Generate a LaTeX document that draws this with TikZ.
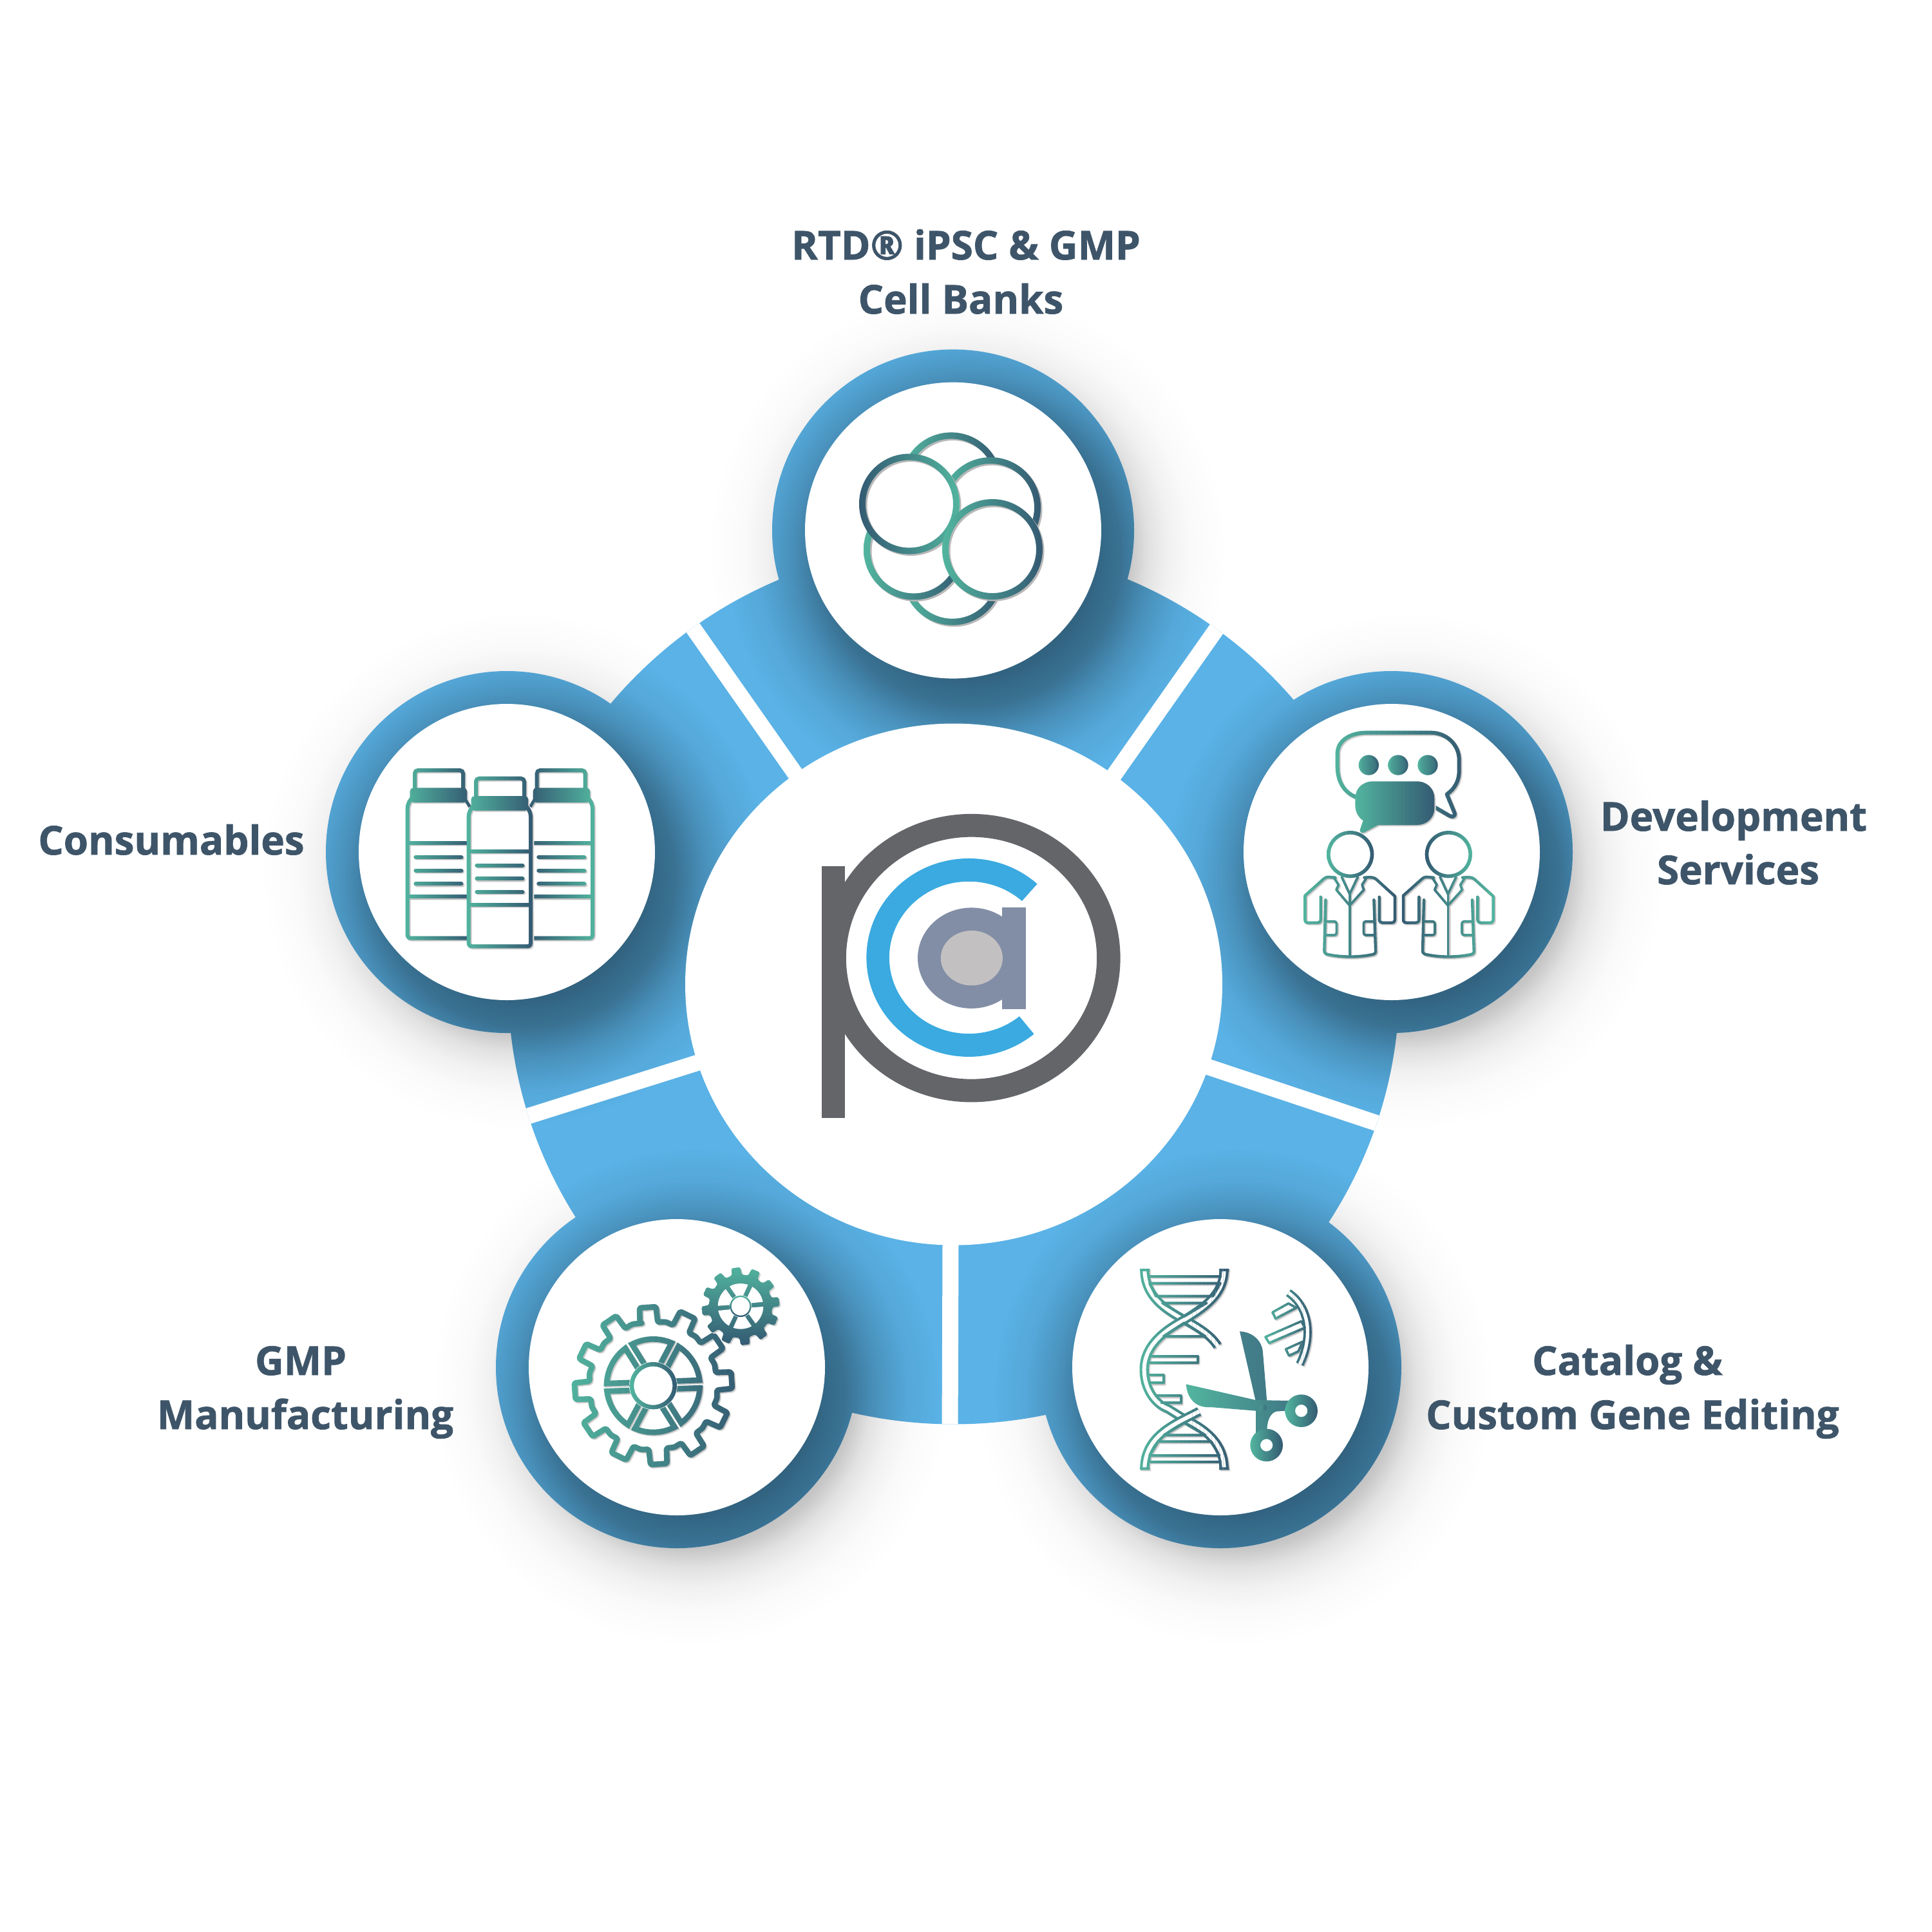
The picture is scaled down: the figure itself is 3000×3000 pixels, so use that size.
\documentclass[tikz,border=0pt]{standalone}
\usepackage{fontspec}
\setmainfont[BoldFeatures={FakeBold=1.2}]{Open Sans}
\usetikzlibrary{fadings}
\definecolor{tealc}{HTML}{52B59F}
\definecolor{darkc}{HTML}{345A72}
\definecolor{midc}{HTML}{43808A}
\definecolor{ringblue}{HTML}{5AB2E6}
\definecolor{textc}{HTML}{3E5569}
\definecolor{logogrey}{HTML}{636569}
\definecolor{logoblue}{HTML}{3AAAE0}
\definecolor{logoa}{HTML}{828EA6}
\definecolor{logoin}{HTML}{C2C0C1}
\colorlet{gc}{tealc}
\pgfdeclareradialshading{discprofile}{\pgfpointorigin}{%
 color(0bp)=(white);color(11.8bp)=(white);color(15.3bp)=(black!21);color(18.4bp)=(black!60);color(21.7bp)=(black!88);color(25bp)=(black);color(50bp)=(black)}
\pgfdeclarefading{discfade}{\pgfuseshading{discprofile}}
\pgfdeclareradialshading{pageprofile}{\pgfpointorigin}{%
 color(0bp)=(white);color(14.4bp)=(white);color(15.7bp)=(black!15);color(17.5bp)=(black!55);color(19.4bp)=(black!78);color(21.6bp)=(black!92);color(25bp)=(black);color(50bp)=(black)}
\pgfdeclarefading{pagefade}{\pgfuseshading{pageprofile}}
\tikzset{
 lab/.style={text=textc,font=\fontsize{14.85pt}{17pt}\selectfont\bfseries,inner sep=0pt,anchor=base},
 wstroke/.style={gc,line width=#1*0.08pt},
 crop/.style={x=0.08pt,y=-0.08pt},
}
% gradient painter: x1 y1 x2 y2 left right drawing (the drawing uses the colour gc)
\newcommand{\gradpaint}[7]{%
 \begin{scope}[shift={(7,7)}]\colorlet{gc}{black!10}#7\end{scope}
 \begin{scope}[shift={(4,4)}]\colorlet{gc}{black!24}#7\end{scope}
 \foreach \i in {0,...,23}{%
  \pgfmathsetmacro\xa{#1+(#3-#1)/24*\i}%
  \pgfmathsetmacro\xb{#1+(#3-#1)/24*(\i+1)+1.5}%
  \pgfmathsetmacro\mx{100*(\i+.5)/24}%
  \colorlet{gc}{#6!\mx!#5}%
  \begin{scope}\clip (\xa,#2) rectangle (\xb,#4);#7\end{scope}%
 }}
\newcommand{\gradpaintv}[7]{%
 \begin{scope}[shift={(6,6)}]\colorlet{gc}{black!18}#7\end{scope}
 \foreach \i in {0,...,23}{%
  \pgfmathsetmacro\ya{#2+(#4-#2)/24*\i}%
  \pgfmathsetmacro\yb{#2+(#4-#2)/24*(\i+1)+1.5}%
  \pgfmathsetmacro\mx{100*(\i+.5)/24}%
  \colorlet{gc}{#6!\mx!#5}%
  \begin{scope}\clip (#1,\ya) rectangle (#3,\yb);#7\end{scope}%
 }}
\newcommand{\cellring}[5]{%
 \fill[white] (#1,#2) circle (73);
 \fill[black!28,even odd rule] ({#1+2.5},{#2+2.5}) circle (78) ({#1+2.5},{#2+2.5}) circle (68);
 \shade[even odd rule,left color=#3,right color=#4] (#1,#2) circle (78) (#1,#2) circle (68);}
\newcommand{\coatbody}{%
 \draw[wstroke=13,line join=round,line cap=round] (370,788) -- (335,785) .. controls (325,787) and (320,790) .. (315,795) -- (229,872) -- (229,985) .. controls (229,995) and (235,998) .. (245,998) -- (285,998) .. controls (298,998) and (302,993) .. (302,983) -- (302,878);
 \draw[wstroke=13,line join=round,line cap=round] (325,892) -- (319,1128) .. controls (319,1140) and (325,1143) .. (335,1146) .. controls (400,1160) and (480,1160) .. (545,1146) .. controls (555,1143) and (560,1138) .. (558,1125) -- (550,892);
 \draw[wstroke=13,line join=round,line cap=round] (575,878) -- (575,983) .. controls (575,993) and (580,998) .. (592,998) -- (632,998) .. controls (642,998) and (648,993) .. (648,985) -- (648,875) -- (560,795) .. controls (550,787) and (540,785) .. (505,788);
 \draw[wstroke=11,line join=round,line cap=round] (400,785) -- (437,865) -- (475,785);
 \draw[wstroke=11,line join=round,line cap=round] (365,790) -- (385,822) -- (375,845) -- (437,918) -- (503,845) -- (495,822) -- (515,790);
 \draw[wstroke=11] (437,865) -- (437,1155);
 \draw[wstroke=11,line join=round] (325,992) -- (365,992) .. controls (372,992) and (376,996) .. (376,1003) -- (376,1045) .. controls (376,1052) and (372,1056) .. (365,1056) -- (322,1056);
 \draw[wstroke=11,line join=round] (552,992) -- (513,992) .. controls (506,992) and (502,996) .. (502,1003) -- (502,1045) .. controls (502,1052) and (506,1056) .. (513,1056) -- (552,1056);
}
\newcommand{\bottlebody}{%
 \draw[wstroke=18,line join=round] (375,860) -- (115,860) .. controls (103,860) and (98,855) .. (98,843) -- (98,255) .. controls (98,235) and (110,215) .. (122,205);
 \draw[wstroke=18] (98,417) -- (375,417) (98,667) -- (375,667);
 \draw[wstroke=18,line cap=round] (136,483) -- (349,483) (136,545) -- (349,545) (136,607) -- (349,607);
 \draw[wstroke=18,rounded corners=1.2pt] (132,170) -- (132,78) -- (357,78) -- (357,170);
 \fill[gc,rounded corners=1.2pt] (110,160) rectangle (375,228);
 \draw[wstroke=14] (368,215) -- (388,248);
}
\newcommand{\bottlecentre}{%
 \draw[wstroke=18,line join=round] (122,205) .. controls (110,215) and (98,235) .. (98,255) -- (98,843) .. controls (98,855) and (103,860) .. (115,860) -- (372,860) .. controls (382,860) and (387,855) .. (387,843) -- (387,255) .. controls (387,235) and (375,215) .. (363,205);
 \draw[wstroke=18] (98,417) -- (387,417) (98,667) -- (387,667);
 \draw[wstroke=18,line cap=round] (136,483) -- (349,483) (136,545) -- (349,545) (136,607) -- (349,607);
 \draw[wstroke=18,rounded corners=1.2pt] (132,170) -- (132,78) -- (357,78) -- (357,170);
 \fill[gc,rounded corners=1.2pt] (110,160) rectangle (375,228);
}
\newcommand{\bubbleline}{%
 \draw[wstroke=18,line join=round,line cap=round] (465,412) .. controls (410,390) and (380,340) .. (380,270) -- (380,210) .. controls (380,150) and (440,113) .. (515,113) -- (815,113) .. controls (890,113) and (947,170) .. (947,240) -- (947,290) .. controls (947,340) and (925,375) .. (890,400) -- (925,485) .. controls (932,503) and (915,508) .. (902,500) -- (825,455);
}
\newcommand{\bubblesolid}{%
 \fill[gc] (545,340) -- (750,340) .. controls (800,340) and (832,375) .. (832,420) -- (832,465) .. controls (832,510) and (795,543) .. (750,543) -- (570,543) -- (510,575) .. controls (490,585) and (480,575) .. (487,560) -- (500,522) .. controls (475,505) and (463,480) .. (463,450) -- (463,420) .. controls (463,375) and (495,340) .. (545,340) -- cycle;
}
\newcommand{\dnacoil}{%
 \tikzset{strand/.style={gc,line width=1pt,double=white,double distance=1.44pt}}
 \draw[strand] (142,62) .. controls (142,190) and (240,250) .. (327,298) .. controls (395,335) and (450,370) .. (482,420);
 \draw[strand] (512,62) .. controls (512,180) and (420,240) .. (327,298) .. controls (200,365) and (140,440) .. (140,530) .. controls (140,620) and (190,690) .. (250,712) -- (327,760) .. controls (420,805) and (512,870) .. (512,995);
 \draw[strand] (396,725) -- (327,760) .. controls (230,810) and (142,870) .. (142,995);
 \fill[gc] (120,60) rectangle (165,72) (490,60) rectangle (535,72) (120,985) rectangle (165,997) (490,985) rectangle (535,997);
 \draw[wstroke=12] (155,96) -- (500,96) (155,960) -- (500,960);
 \draw[wstroke=12,line join=round] (165,128) -- (495,128) -- (460,188) -- (195,188) -- cycle;
 \draw[wstroke=12,line join=round] (225,220) -- (430,220) -- (327,282) -- cycle;
 \draw[wstroke=12,line join=round] (327,312) -- (425,375) -- (230,375) -- cycle;
 \draw[wstroke=12,line join=round] (165,467) -- (390,467) -- (390,497) -- (155,497);
 \draw[wstroke=12,line join=round] (155,555) -- (230,555) -- (230,592) -- (160,592);
 \draw[wstroke=12,line join=round] (190,652) -- (312,652) -- (312,685) -- (215,685);
 \draw[wstroke=12,line join=round] (327,778) -- (425,835) -- (232,835) -- cycle;
 \draw[wstroke=12,line join=round] (205,865) -- (452,865) -- (490,930) -- (165,930) -- cycle;
}
\newcommand{\rnapiece}{%
 \draw[gc,line width=0.88pt,double=white,double distance=1.28pt] (812,172) .. controls (905,235) and (930,370) .. (865,505);
 \draw[wstroke=11,fill=white,line join=round] (738,263) -- (812,222) -- (848,242) -- (752,292) -- cycle;
 \draw[wstroke=11,fill=white,line join=round] (705,378) -- (872,305) -- (888,335) -- (722,406) -- cycle;
 \draw[wstroke=11,fill=white,line join=round] (800,435) -- (878,400) -- (858,445) -- (815,465) -- cycle;
}
\newcommand{\biggear}{%
 \begin{scope}[shift={(463,605)}]
 \draw[wstroke=26,line join=round,rounded corners=0.64pt] (-101:297)
  \foreach \a in {-94,-64,...,236} { -- ({\a-8}:297) -- ({\a-6}:368) -- ({\a+6}:368) -- ({\a+8}:297) -- ({\a+15}:303) } -- cycle;
 \foreach \g in {-2,58,...,298} {
  \draw[wstroke=26,line join=miter] ({\g+4.8}:217) arc[start angle=\g+4.8,end angle=\g+55.2,radius=217] -- ({\g+30}:36) -- cycle;
 }
 \end{scope}
}
\newcommand{\smallgear}{%
 \begin{scope}[shift={(870,235)}]
 \fill[gc,rounded corners=0.48pt] (-106:148)
  \foreach \a in {-97,-67,...,233} { -- ({\a-9}:148) -- ({\a-6.5}:182) -- ({\a+6.5}:182) -- ({\a+9}:148) } -- cycle;
 \foreach \g in {-5,55,...,295} {
  \fill[white] ({\g+6}:106) arc[start angle=\g+6,end angle=\g+54,radius=106] -- ({\g+30}:20) -- cycle;
 }
 \end{scope}
}
\begin{document}
\begin{tikzpicture}[x=0.24pt,y=-0.24pt]
\useasboundingbox (0,0) rectangle (3000,3000);
\fill[white] (0,0) rectangle (3000,3000);
% ---- soft grey shadows on the page ----
\foreach \cx/\cy in {1480/823.6,2161/1323,787/1323,1051/2123,1895/2123}{
 \fill[black,opacity=.26,path fading=pagefade] ({\cx+22},{\cy+30}) circle (400);
}
% ---- blue ring and discs ----
\fill[ringblue] (1481,1528.5) ellipse [x radius=692,y radius=683];
\foreach \cx/\cy in {1480/823.6,2161/1323,787/1323,1051/2123,1895/2123}{
 \fill[ringblue] (\cx,\cy) circle (281);
}
% ---- shadows of the white circles on the blue ----
\begin{scope}
 \clip (1481,1528.5) ellipse [x radius=692,y radius=683] (1480,823.6) circle (281) (2161,1323) circle (281) (787,1323) circle (281) (1051,2123) circle (281) (1895,2123) circle (281);
 \foreach \cx/\cy in {1480/823.6,2161/1323,787/1323,1051/2123,1895/2123}{
  \fill[black,opacity=.45,path fading=discfade] ({\cx+28},{\cy+40}) circle (380);
 }
\end{scope}
% ---- gaps between the ring segments ----
\begin{scope}
 \clip (1481,1528.5) ellipse [x radius=692,y radius=683];
 \draw[white,line width=6pt] (1236,1203) -- (1060,952);
 \draw[white,line width=6pt] (1728,1206) -- (1905,954);
 \draw[white,line width=6pt] (1871,1655) -- (2165,1753);
 \draw[white,line width=6pt] (1087,1649) -- (795,1741);
 \draw[white,line width=6pt] (1476,1932) -- (1475,2240);
\end{scope}
\fill[white] (1481,1528.5) ellipse [x radius=417,y radius=405];
% ---- white circles ----
\foreach \cx/\cy in {1480/823.6,2161/1323,787/1323,1051/2123,1895/2123}{
 \fill[white] (\cx,\cy) circle (230);
}
% ---- logo ----
\begin{scope}[shift={(1250,1240)},x=0.08418pt,y=-0.08418pt]
 \fill[logogrey,even odd rule] (737,706) ellipse [x radius=659,y radius=638] (737,706) ellipse [x radius=555,y radius=536];
 \fill[logogrey] (75,299) rectangle (178,1413);
 \fill[logoblue] (725,704) ++(-48:453 and 439) arc[start angle=-48,end angle=-309.6,x radius=453,y radius=439] -- (949,964) arc[start angle=-309.5,end angle=-48,x radius=352,y radius=337] -- cycle;
 \fill[logoa] (737,706) ellipse [x radius=238,y radius=223];
 \fill[logoa] (873,481) rectangle (977,931);
 \fill[logoin] (738,706) ellipse [x radius=137,y radius=121.5];
\end{scope}
% ---- cells icon ----
\cellring{1477}{749.4}{tealc}{darkc}{90}
\cellring{1479}{892.7}{tealc}{darkc}{90}
\cellring{1538}{788}{tealc}{darkc}{90}
\cellring{1419}{853.4}{tealc}{darkc}{90}
\cellring{1412}{782.5}{darkc}{tealc}{90}
\cellring{1541}{853}{tealc}{darkc}{90}
% ---- development icon ----
\begin{scope}[shift={(1950,1100)},crop]
 \gradpaint{355}{95}{970}{520}{tealc}{darkc}{\bubbleline}
 \gradpaint{460}{335}{836}{590}{tealc}{darkc}{\bubblesolid}
 \foreach \dx in {526,663,801}{
  \shade[left color=tealc,right color=darkc] (\dx,264) circle (47);
  \shade[left color=tealc!80!darkc,right color=darkc!75!tealc] (\dx,264) circle (36);
 }
 \gradpaint{215}{770}{660}{1175}{tealc}{darkc}{\coatbody}
 \begin{scope}[shift={(458,0)}]
  \gradpaint{215}{770}{660}{1175}{darkc}{tealc}{\coatbody}
 \end{scope}
 \fill[white] (440,680) circle (102);
 \shade[even odd rule,left color=tealc,right color=darkc] (440,680) circle (110) (440,680) circle (93);
 \fill[white] (898,680) circle (102);
 \shade[even odd rule,left color=darkc,right color=tealc] (898,680) circle (110) (898,680) circle (93);
\end{scope}
% ---- gene editing icon ----
\begin{scope}[shift={(1730,1950)},crop]
 \gradpaint{110}{50}{545}{1005}{tealc}{darkc}{\dnacoil}
 \gradpaint{695}{155}{930}{520}{tealc}{darkc}{\rnapiece}
 \shade[left color=midc,right color=midc!85!darkc] (585,352) .. controls (650,355) and (690,400) .. (693,450) -- (712,680) -- (660,680) -- cycle;
 \shade[left color=tealc,right color=midc!85!darkc] (335,598) -- (660,672) -- (815,675) -- (800,722) -- (755,725) .. controls (725,735) and (712,770) .. (712,820) -- (660,830) -- (660,722) -- (450,705) .. controls (375,710) and (340,660) .. (335,598) -- cycle;
 \shade[even odd rule,left color=tealc,right color=darkc] (872,722) circle (76) (872,722) circle (29);
 \shade[even odd rule,left color=tealc,right color=darkc] (710,882) circle (76) (710,882) circle (29);
 \shade[left color=tealc!70!darkc,right color=darkc!80!tealc] (695,708) circle (17);
\end{scope}
% ---- gears icon ----
\begin{scope}[shift={(860,1950)},crop]
 \gradpaint{60}{200}{870}{1010}{tealc}{darkc}{\biggear}
 \gradpaintv{680}{45}{1065}{420}{tealc}{darkc}{\smallgear}
 \fill[white] (463,605) circle (112);
 \shade[even odd rule,left color=tealc,right color=darkc] (463,605) circle (110) (463,605) circle (90);
 \fill[white] (870,235) circle (52);
 \shade[even odd rule,top color=tealc,bottom color=darkc] (870,235) circle (50) (870,235) circle (43);
\end{scope}
% ---- bottles icon ----
\begin{scope}[shift={(600,1170)},crop]
 \gradpaint{85}{65}{395}{875}{tealc}{darkc}{\bottlebody}
 \gradpaint{663}{65}{973}{875}{darkc}{tealc}{\begin{scope}[xscale=-1,shift={(-1058,0)}]\bottlebody\end{scope}}
 \fill[white] (383,300) rectangle (672,898);
 \begin{scope}[shift={(285,38)}]
  \gradpaint{85}{65}{395}{875}{tealc}{darkc}{\bottlecentre}
 \end{scope}
\end{scope}
% ---- labels ----
\node[lab] (t1a) at (1500,403) {RTD® iPSC \& GMP};
\node[lab] (t1b) at (1492,487) {Cell Banks};
\node[lab] (t2a) at (2692,1290) {Development};
\node[lab] (t2b) at (2699,1373) {Services};
\node[lab] (t3) at (266,1327) {Consumables};
\node[lab] (t4a) at (467,2135) {GMP};
\node[lab] (t4b) at (474,2219) {Manufacturing};
\node[lab] (t5a) at (2527,2135) {Catalog \&};
\node[lab] (t5b) at (2535,2219) {Custom Gene Editing};
\end{tikzpicture}
\end{document}
